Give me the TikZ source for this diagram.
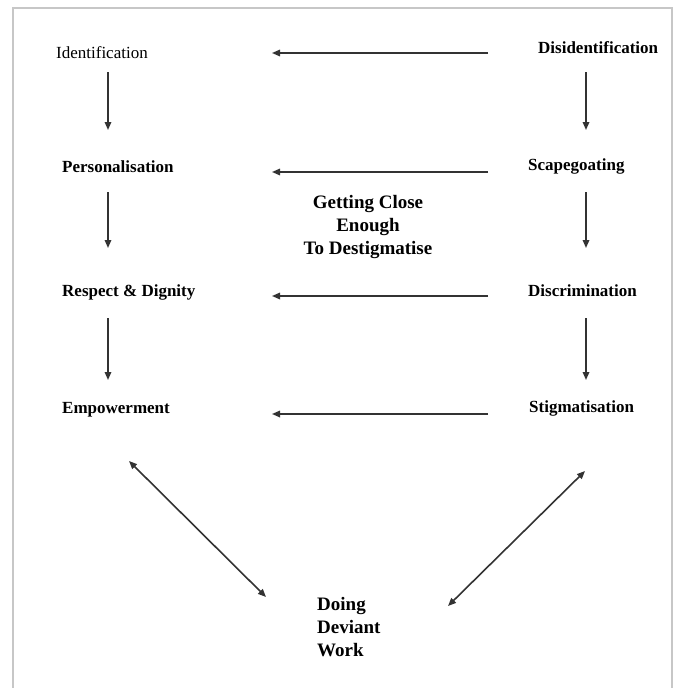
\documentclass[tikz,border=0pt]{standalone}
\usepackage{fontspec}
\setmainfont{Liberation Serif}
\usetikzlibrary{arrows.meta}
\begin{document}
\begin{tikzpicture}[x=1pt,y=-1pt,
  lbl/.style={inner sep=0pt,anchor=base west,font=\fontsize{17}{20}\selectfont\bfseries},
  big/.style={inner sep=0pt,font=\fontsize{19}{23}\selectfont\bfseries},
  arr/.style={line width=1.6pt,draw=black!80,-{Triangle[length=8pt,width=6.5pt]}},
  darr/.style={line width=1.6pt,draw=black!80,{Triangle[length=8pt,width=6.5pt]}-{Triangle[length=8pt,width=6.5pt]}}]
\useasboundingbox (0,0) rectangle (677,688);
\fill[white] (0,0) rectangle (677,688);
\draw[black!22,line width=2pt] (13,8) rectangle (672,700);

% left column
\node[lbl,font=\fontsize{17}{20}\selectfont] (ident) at (56,58.5) {Identification};
\node[lbl] (pers) at (62,172.5) {Personalisation};
\node[lbl] (resp) at (62,296) {Respect \& Dignity};
\node[lbl] (emp) at (62,413) {Empowerment};
% right column
\node[lbl] (disid) at (538,53.5) {Disidentification};
\node[lbl] (scape) at (528,170) {Scapegoating};
\node[lbl] (discr) at (528,296) {Discrimination};
\node[lbl] (stig) at (529,412) {Stigmatisation};
% centre texts
\node[big,align=center] (close) at (368,227.5) {Getting Close\\Enough\\To Destigmatise};
\node[big,align=left,anchor=west] (work) at (317,627) {Doing\\Deviant\\Work};

% arrow end points
\coordinate (h1a) at (488,53);  \coordinate (h1b) at (272,53);
\coordinate (h2a) at (488,172); \coordinate (h2b) at (272,172);
\coordinate (h3a) at (488,296); \coordinate (h3b) at (272,296);
\coordinate (h4a) at (488,414); \coordinate (h4b) at (272,414);

\coordinate (l1a) at (108,72);  \coordinate (l1b) at (108,130);
\coordinate (l2a) at (108,192); \coordinate (l2b) at (108,248);
\coordinate (l3a) at (108,318); \coordinate (l3b) at (108,380);

\coordinate (r1a) at (586,72);  \coordinate (r1b) at (586,130);
\coordinate (r2a) at (586,192); \coordinate (r2b) at (586,248);
\coordinate (r3a) at (586,318); \coordinate (r3b) at (586,380);

\coordinate (d1a) at (129,461); \coordinate (d1b) at (266,597);
\coordinate (d2a) at (585,471); \coordinate (d2b) at (448,606);

\draw[arr] (h1a) -- (h1b);
\draw[arr] (h2a) -- (h2b);
\draw[arr] (h3a) -- (h3b);
\draw[arr] (h4a) -- (h4b);
\draw[arr] (l1a) -- (l1b);
\draw[arr] (l2a) -- (l2b);
\draw[arr] (l3a) -- (l3b);
\draw[arr] (r1a) -- (r1b);
\draw[arr] (r2a) -- (r2b);
\draw[arr] (r3a) -- (r3b);
\draw[darr] (d1a) -- (d1b);
\draw[darr] (d2a) -- (d2b);
\end{tikzpicture}
\end{document}
